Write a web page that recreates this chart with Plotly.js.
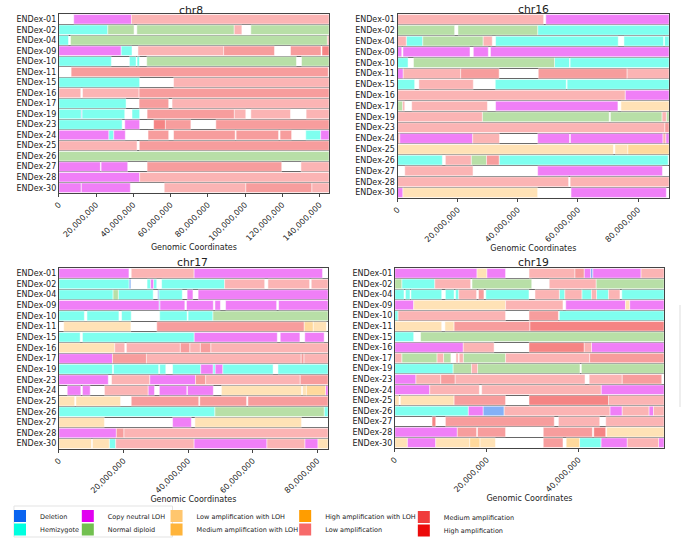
<!DOCTYPE html>
<html>
<head>
<meta charset="utf-8">
<script src="https://cdn.plot.ly/plotly-3.0.1.min.js"></script>
<style>html,body{margin:0;padding:0;background:#fff;}#chart{width:685px;height:547px;}</style>
</head>
<body>
<div id="chart"></div>
<script>
// ---------------- data ----------------
const samples = ['ENDex-01','ENDex-02','ENDex-04','ENDex-09','ENDex-10','ENDex-11','ENDex-15','ENDex-16','ENDex-17','ENDex-19','ENDex-23','ENDex-24','ENDex-25','ENDex-26','ENDex-27','ENDex-28','ENDex-30'];
const stateCodes = ['D','H','C','N','LL','ML','HL','L','M','A'];
const stateNames = ['Deletion','Hemizygote','Copy neutral LOH','Normal diploid','Low amplification with LOH','Medium amplification with LOH','High amplification with LOH','Low amplification','Medium amplification','High amplification'];
const stateColors = ['#0A64F0','#00FFE0','#E100F0','#72C050','#FFC66E','#FFB43A','#FF9D00','#F76A6A','#F03C3C','#EC0A0A'];
const chromNames = ['chr8','chr16','chr17','chr19'];
const chromLengthsMb = [145.1, 90.3, 83.3, 58.6];

// segments per sample: [startMb, endMb, state]
const chr8 = [
  [[8.0,39.0,'C'],[39.0,145.1,'L']],
  [[0,26.3,'H'],[26.3,40.4,'N'],[41.9,94.2,'N'],[94.2,98.3,'L'],[103.1,145.1,'N']],
  [[0,5.2,'H'],[6.3,144.2,'N'],[144.2,145.1,'L']],
  [[0,33.4,'C'],[33.4,39.3,'H'],[42.5,88.5,'L'],[88.5,115.8,'M'],[124.4,140.8,'M'],[141.3,145.1,'A']],
  [[0,28.2,'H'],[37.9,41.5,'H'],[42.0,43.3,'H'],[47.2,127.6,'N'],[130.3,145.1,'N']],
  [[6.6,144.7,'M']],
  [[0,43.4,'H'],[61.6,145.1,'L']],
  [[0,11.8,'L'],[12.7,43.1,'L'],[43.1,145.1,'M']],
  [[0,36.1,'H'],[43.1,59.0,'M'],[60.8,145.1,'L']],
  [[0,12.0,'H'],[12.0,12.5,'D'],[12.5,35.4,'H'],[39.3,43.4,'H'],[47.4,94.2,'M'],[94.2,100.4,'L'],[103.1,124.4,'L'],[132.8,145.1,'L']],
  [[0,34.0,'H'],[35.4,43.4,'C'],[50.9,57.2,'A'],[57.2,70.9,'M'],[84.3,145.1,'M']],
  [[0,26.8,'C'],[26.8,29.5,'H'],[29.5,35.7,'C'],[47.9,59.0,'M'],[61.6,94.7,'M'],[95.2,118.0,'M'],[118.8,125.0,'M'],[132.6,140.6,'H'],[140.6,145.1,'C']],
  [[0,42.0,'L'],[43.2,145.1,'M']],
  [[0,145.1,'N']],
  [[0,22.3,'C'],[22.7,37.0,'C'],[47.4,119.7,'M'],[130.0,145.1,'L']],
  [[0,43.4,'C'],[43.4,145.1,'L']],
  [[0,12.0,'C'],[12.1,38.4,'C'],[56.6,100.4,'L'],[100.4,135.8,'M'],[135.8,145.1,'L']]
];
const chr16 = [
  [[0,48.6,'L'],[49.3,90.3,'C']],
  [[0,19.0,'N'],[20.1,46.6,'N'],[46.6,90.3,'H']],
  [[0,2.9,'L'],[2.9,8.4,'H'],[8.4,28.5,'N'],[28.5,31.5,'L'],[32.6,73.4,'H'],[75.3,88.5,'H'],[88.8,90.3,'H']],
  [[0,1.4,'C'],[1.8,24.1,'C'],[25.2,30.2,'C'],[30.9,90.3,'C']],
  [[0,3.5,'H'],[5.3,52.2,'N'],[52.2,57.2,'H'],[57.4,90.3,'H']],
  [[0,1.9,'C'],[1.9,21.0,'L'],[21.0,33.8,'M'],[46.8,76.3,'M'],[76.3,90.3,'L']],
  [[0,5.7,'H'],[7.1,25.2,'L'],[32.5,56.1,'H'],[56.4,90.3,'H']],
  [[0,75.7,'L'],[75.7,90.3,'C']],
  [[0,1.7,'N'],[1.7,2.4,'L'],[4.7,29.9,'L'],[32.6,73.3,'C'],[74.3,90.3,'LL']],
  [[0,28.2,'L'],[28.2,70.4,'N'],[70.8,88.0,'N'],[88.0,89.4,'L'],[89.4,90.3,'N']],
  [[0,88.9,'L'],[88.9,90.3,'M']],
  [[0,0.7,'L'],[0.7,25.0,'C'],[25.0,33.9,'L'],[46.6,57.2,'C'],[57.5,88.3,'C'],[88.3,89.2,'L'],[89.2,90.3,'C']],
  [[0,71.8,'LL'],[72.3,76.6,'LL'],[76.6,90.3,'ML']],
  [[0,14.9,'H'],[15.9,24.5,'L'],[24.5,29.6,'N'],[29.6,33.8,'M'],[33.8,90.0,'H']],
  [[2.4,25.1,'L'],[46.6,88.1,'C']],
  [[0,56.9,'L'],[57.4,90.3,'L']],
  [[0,1.8,'C'],[1.8,46.6,'LL'],[57.7,89.4,'C']]
];
const chr17 = [
  [[0,21.7,'C'],[22.4,41.8,'L'],[41.8,81.6,'C']],
  [[0,21.7,'H'],[21.7,22.3,'D'],[27.3,28.4,'H'],[28.4,29.3,'C'],[29.3,30.3,'H'],[31.8,51.3,'H'],[51.3,63.7,'L'],[64.7,77.6,'L'],[78.1,83.3,'L']],
  [[0,16.8,'H'],[16.8,18.4,'N'],[18.4,29.2,'H'],[30.6,31.0,'D'],[31.0,38.2,'H'],[39.7,41.5,'C'],[43.1,83.3,'C']],
  [[0,31.0,'C'],[31.0,31.3,'D'],[31.3,39.0,'C'],[39.5,47.8,'C'],[48.3,50.0,'C'],[51.6,67.4,'C'],[68.0,83.3,'C']],
  [[0,7.9,'H'],[8.7,18.6,'H'],[19.4,22.4,'H'],[31.2,39.7,'H'],[40.0,47.7,'H'],[47.7,83.3,'N']],
  [[1.5,22.3,'LL'],[30.3,75.9,'M'],[75.9,78.7,'ML'],[78.7,82.8,'LL']],
  [[0,6.6,'H'],[7.3,41.9,'H'],[41.9,67.6,'C'],[68.5,74.6,'C'],[76.1,82.1,'C']],
  [[0,17.3,'LL'],[17.3,20.4,'L'],[20.9,37.6,'L'],[37.6,40.5,'M'],[40.5,43.8,'L'],[43.8,47.0,'M'],[47.0,83.3,'L']],
  [[0,16.6,'C'],[16.6,27.1,'M'],[27.1,75.0,'L'],[75.0,75.8,'M'],[75.8,83.3,'L']],
  [[0,16.6,'H'],[16.9,30.9,'H'],[31.2,33.1,'H'],[35.2,43.9,'H'],[43.9,47.7,'C'],[47.7,48.4,'H'],[48.4,50.7,'C'],[50.7,66.3,'H'],[67.8,83.3,'H']],
  [[0,15.3,'C'],[16.3,28.1,'L'],[28.1,42.3,'C'],[42.3,45.4,'M'],[45.4,74.7,'L'],[74.7,83.3,'M']],
  [[2.6,6.8,'C'],[7.3,9.7,'C'],[14.1,27.6,'L'],[27.6,29.6,'C'],[31.1,39.6,'C'],[39.8,47.8,'C'],[50.3,75.1,'LL'],[75.4,76.6,'LL'],[76.6,82.5,'ML'],[82.5,83.3,'C']],
  [[0,4.9,'LL'],[5.3,19.1,'LL'],[22.4,43.3,'M'],[43.6,58.1,'M'],[58.5,83.3,'M']],
  [[0,48.3,'H'],[48.3,82.1,'N'],[82.1,83.3,'H']],
  [[0,14.1,'LL'],[35.2,41.0,'C'],[42.1,75.1,'LL']],
  [[0,17.8,'C'],[17.8,20.1,'M'],[20.1,83.3,'L']],
  [[0,10.1,'LL'],[10.4,15.6,'LL'],[15.6,17.6,'H'],[17.6,41.8,'L'],[41.8,64.4,'C'],[64.4,76.1,'L'],[76.1,80.2,'C'],[80.2,83.3,'LL']]
];
const chr19 = [
  [[0,17.9,'C'],[17.9,20.0,'LL'],[20.0,24.1,'C'],[29.2,39.2,'L'],[39.2,41.2,'M'],[41.2,42.6,'C'],[42.6,43.1,'D'],[43.1,53.6,'C'],[53.6,58.6,'L']],
  [[0,1.5,'N'],[1.5,8.7,'H'],[8.7,16.5,'L'],[16.8,29.8,'N'],[33.6,43.8,'L'],[43.8,58.6,'N']],
  [[0,2.0,'H'],[2.3,3.3,'H'],[3.5,10.2,'H'],[11.0,12.9,'H'],[13.2,13.9,'H'],[13.9,17.8,'L'],[18.2,19.4,'M'],[19.8,29.2,'H'],[30.5,35.8,'L'],[35.8,37.0,'H'],[37.0,40.7,'L'],[40.7,42.8,'H'],[42.8,43.9,'L'],[43.9,46.5,'H'],[46.5,49.0,'L'],[49.4,58.6,'H']],
  [[0,4.1,'C'],[4.1,24.1,'LL'],[24.1,36.6,'L'],[37.2,50.2,'C'],[50.2,51.1,'LL'],[51.1,58.6,'C']],
  [[0,0.7,'H'],[0.7,24.1,'L'],[29.2,35.6,'M'],[35.8,58.6,'H']],
  [[0,10.2,'LL'],[10.9,12.9,'LL'],[12.9,29.4,'M'],[29.4,58.6,'A']],
  [[0,4.1,'H'],[5.6,58.6,'N']],
  [[0,14.9,'C'],[14.9,21.6,'L'],[29.2,41.2,'A'],[41.2,42.8,'L'],[42.8,58.6,'C']],
  [[0,1.5,'L'],[1.5,9.2,'N'],[9.2,10.6,'L'],[10.6,12.2,'N'],[13.3,13.8,'L'],[14.0,14.9,'L'],[14.9,24.1,'N'],[24.1,42.4,'L'],[42.4,58.6,'M']],
  [[0,12.7,'H'],[12.7,16.7,'N'],[16.7,18.0,'L'],[18.0,40.3,'N'],[40.6,58.6,'N']],
  [[0,4.6,'C'],[4.6,10.0,'L'],[10.0,13.1,'M'],[13.1,41.4,'L'],[42.3,49.5,'L'],[49.5,58.1,'M']],
  [[0,7.6,'C'],[7.6,18.4,'L'],[18.9,44.9,'L'],[44.9,58.6,'C']],
  [[0,0.9,'LL'],[1.2,12.9,'LL'],[12.9,24.1,'M'],[29.2,46.5,'A'],[46.5,58.6,'L']],
  [[0,16.0,'H'],[16.0,19.2,'C'],[19.2,23.8,'D'],[23.8,46.8,'L'],[46.8,49.5,'C'],[49.5,55.3,'L'],[55.3,56.3,'C'],[56.3,58.6,'L']],
  [[8.1,8.9,'A'],[11.0,34.7,'M'],[35.6,44.6,'L'],[45.9,58.6,'L']],
  [[0,13.6,'C'],[13.6,17.8,'M'],[18.0,24.1,'M'],[32.3,43.0,'M'],[43.3,45.9,'A'],[46.1,58.6,'LL']],
  [[0,2.7,'LL'],[2.7,8.9,'C'],[8.9,16.3,'LL'],[16.3,18.5,'ML'],[18.5,21.9,'LL'],[32.3,36.6,'M'],[37.3,40.2,'ML'],[40.2,44.9,'H'],[44.9,50.6,'C'],[50.6,57.4,'L'],[57.4,58.6,'C']]
];
const chromSegments = [chr8, chr16, chr17, chr19];

// ---------------- layout constants ----------------
const W = 685, H = 547;
const FONT = 'DejaVu Sans';
const panelBoxes = [ // [left, right, top, bottom] in px
  [57, 328, 14, 193],
  [396.7, 669, 14, 198],
  [57, 327, 268, 449],
  [394, 664, 268, 448]
];
const titlePos = [[190, 10.5], [532.7, 10], [191, 262.5], [533, 263]];
const barAlpha = 0.5;

function alphaColor(hex, a) {
  const r = parseInt(hex.slice(1,3),16), g = parseInt(hex.slice(3,5),16), b = parseInt(hex.slice(5,7),16);
  return 'rgba(' + r + ',' + g + ',' + b + ',' + a + ')';
}

const traces = [];
const layout = {
  width: W, height: H,
  margin: {l:0, r:0, t:0, b:0},
  paper_bgcolor: '#fff', plot_bgcolor: '#fff',
  barmode: 'overlay',
  font: {family: FONT, size: 8, color: '#222'},
  annotations: [],
  shapes: [],
  hovermode: false
};

chromSegments.forEach((segs, ci) => {
  const sfx = ci === 0 ? '' : String(ci + 1);
  const xa = 'x' + sfx, ya = 'y' + sfx;
  stateCodes.forEach((code, si) => {
    const y = [], base = [], len = [];
    segs.forEach((row, ri) => row.forEach(s => {
      if (s[2] === code) { y.push(samples[ri]); base.push(s[0] * 1e6); len.push((s[1] - s[0]) * 1e6); }
    }));
    if (!y.length) return;
    traces.push({
      type: 'bar', orientation: 'h', y: y, x: len, base: base,
      xaxis: xa, yaxis: ya, width: 0.9, name: stateNames[si],
      marker: {color: alphaColor(stateColors[si], barAlpha), line: {color: '#fff', width: 0.5}},
      showlegend: false, hoverinfo: 'skip'
    });
  });
  const b = panelBoxes[ci];
  layout['xaxis' + sfx] = {
    domain: [b[0] / W, b[1] / W], anchor: ya,
    range: [0, chromLengthsMb[ci] * 1e6],
    tick0: 0, dtick: 20e6, tickformat: ',', tickangle: -45,
    ticks: 'outside', ticklen: 3, tickcolor: '#444',
    showline: true, mirror: true, linecolor: '#444', linewidth: 1,
    showgrid: false, zeroline: false, automargin: false,
    tickfont: {family: FONT, size: 8, color: '#222'},
    title: {text: 'Genomic Coordinates', font: {family: FONT, size: 8, color: '#222'}, standoff: 0},
    fixedrange: true
  };
  layout['yaxis' + sfx] = {
    domain: [1 - b[3] / H, 1 - b[2] / H], anchor: xa,
    type: 'category', categoryorder: 'array', categoryarray: samples,
    range: [samples.length - 0.5, -0.5],
    tickson: 'boundaries', ticks: 'outside', ticklen: 3, tickcolor: 'rgba(0,0,0,0)',
    showgrid: true, gridcolor: '#666', gridwidth: 1,
    showline: true, mirror: true, linecolor: '#444', linewidth: 1,
    zeroline: false, automargin: false,
    tickfont: {family: FONT, size: 8, color: '#222'},
    fixedrange: true
  };
  layout.annotations.push({
    text: chromNames[ci], xref: 'paper', yref: 'paper',
    x: titlePos[ci][0] / W, y: 1 - titlePos[ci][1] / H,
    xanchor: 'center', yanchor: 'middle', showarrow: false,
    font: {family: FONT, size: 10.8, color: '#222'}
  });
});

// legend: one legend per entry, column-major 2 rows
const legendTextLeft = [38, 38, 106, 106, 195, 195, 324, 324, 443, 443];
const legendRowY = [516, 529.5, 516, 529.5, 516, 529.5, 516, 529.5, 517, 530.5];
const legendOrder = ['D','H','C','N','LL','ML','HL','L','M','A'];
legendOrder.forEach((code, k) => {
  const si = stateCodes.indexOf(code);
  const lid = k === 0 ? 'legend' : 'legend' + (k + 1);
  traces.push({
    type: 'bar', orientation: 'h', x: [null], y: [null], xaxis: 'x', yaxis: 'y',
    name: stateNames[si], marker: {color: stateColors[si]},
    showlegend: true, legend: lid, hoverinfo: 'skip'
  });
  layout[lid] = {
    x: (legendTextLeft[k] - 40) / W, y: 1 - legendRowY[k] / H,
    xanchor: 'left', yanchor: 'middle', xref: 'paper', yref: 'paper',
    bgcolor: 'rgba(0,0,0,0)', borderwidth: 0,
    font: {family: FONT, size: 6.5, color: '#222'}
  };
});

layout.shapes.push({type: 'rect', xref: 'paper', yref: 'paper',
  x0: 12 / W, x1: 171 / W, y0: 1 - 537 / H, y1: 1 - 506 / H,
  line: {color: '#e3e3e3', width: 1}, fillcolor: 'rgba(0,0,0,0)'});
layout.shapes.push({type: 'line', xref: 'paper', yref: 'paper',
  x0: 680 / W, x1: 680 / W, y0: 1 - 407 / H, y1: 1 - 305 / H,
  line: {color: '#dddddd', width: 1}});

Plotly.newPlot('chart', traces, layout, {staticPlot: true, displayModeBar: false});
</script>
</body>
</html>
